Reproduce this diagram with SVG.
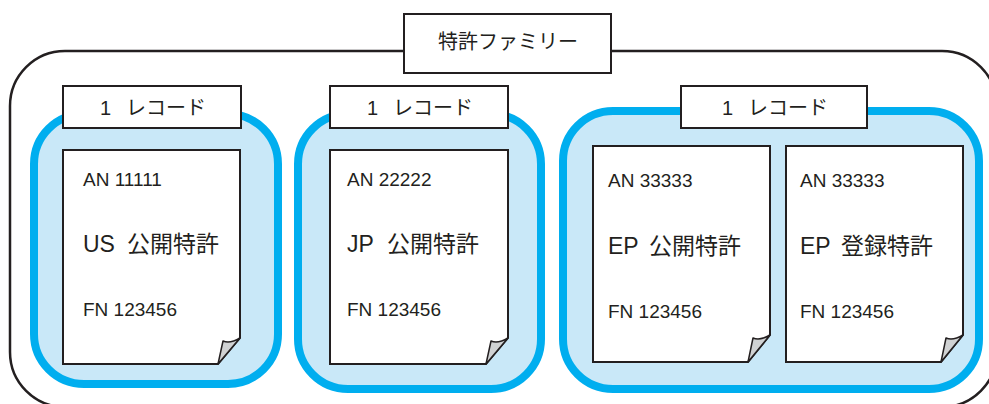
<svg xmlns="http://www.w3.org/2000/svg" width="989" height="404" viewBox="0 0 989 404">
<style>
.txt{font-family:"Liberation Sans","Noto Sans CJK JP",sans-serif;fill:#231f20}
.jp{font-family:"Noto Sans CJK JP","Liberation Sans",sans-serif;fill:#231f20}
.box{fill:#fff;stroke:#231f20;stroke-width:2}
.grp{fill:#c9e8f8;stroke:#00aeef;stroke-width:8}
.flap{fill:#d0d2d3;stroke:#231f20;stroke-width:1.5;stroke-linejoin:round}
.sm{font-size:19px}
.lg{font-size:23px}
.lb{font-size:20px}
</style>
<g id="family">
<rect x="10" y="51" width="987" height="356" rx="55" fill="#fff" stroke="#231f20" stroke-width="2.5"/>
<rect class="box" x="404" y="14" width="207" height="59"/>
<text class="jp" x="438" y="49" font-size="20">特許ファミリー</text>
</g>
<g id="record1">
<rect class="grp" x="34" y="114" width="244" height="270" rx="50"/>
<rect class="box" x="63" y="86" width="178" height="42"/>
<text class="txt lb" x="100" y="115">1<tspan class="jp" x="126">レコード</tspan></text>
</g>
<g id="record2">
<rect class="grp" x="298" y="114" width="243" height="275" rx="50"/>
<rect class="box" x="330" y="86" width="178" height="42"/>
<text class="txt lb" x="367" y="115">1<tspan class="jp" x="393">レコード</tspan></text>
</g>
<g id="record3">
<rect class="grp" x="563" y="111" width="416" height="278" rx="50"/>
<rect class="box" x="681" y="86" width="186" height="42"/>
<text class="txt lb" x="722" y="115">1<tspan class="jp" x="748">レコード</tspan></text>
</g>
<g id="doc-us">
<path class="box" d="M63,150 H240 V338 L218,364 H63 Z"/>
<path class="flap" d="M218,364 L223,341 Q230,344 240,338 Z"/>
<text class="txt sm" x="83" y="186">AN 11111</text>
<text class="txt lg" x="83" y="252">US<tspan class="jp" x="127">公開特許</tspan></text>
<text class="txt sm" x="83" y="316">FN 123456</text>
</g>
<g id="doc-jp">
<path class="box" d="M330,150 H508 V338 L486,364 H330 Z"/>
<path class="flap" d="M486,364 L491,341 Q498,344 508,338 Z"/>
<text class="txt sm" x="347" y="186">AN 22222</text>
<text class="txt lg" x="347" y="252">JP<tspan class="jp" x="387">公開特許</tspan></text>
<text class="txt sm" x="347" y="316">FN 123456</text>
</g>
<g id="doc-ep-pub">
<path class="box" d="M593,146 H770 V335 L748,362 H593 Z"/>
<path class="flap" d="M748,362 L753,338 Q760,341 770,335 Z"/>
<text class="txt sm" x="608" y="187">AN 33333</text>
<text class="txt lg" x="608" y="254">EP<tspan class="jp" x="649">公開特許</tspan></text>
<text class="txt sm" x="608" y="318">FN 123456</text>
</g>
<g id="doc-ep-grant">
<path class="box" d="M786,146 H963 V335 L941,362 H786 Z"/>
<path class="flap" d="M941,362 L946,338 Q953,341 963,335 Z"/>
<text class="txt sm" x="800" y="187">AN 33333</text>
<text class="txt lg" x="800" y="254">EP<tspan class="jp" x="841">登録特許</tspan></text>
<text class="txt sm" x="800" y="318">FN 123456</text>
</g>
<g id="connectors"></g>
</svg>
